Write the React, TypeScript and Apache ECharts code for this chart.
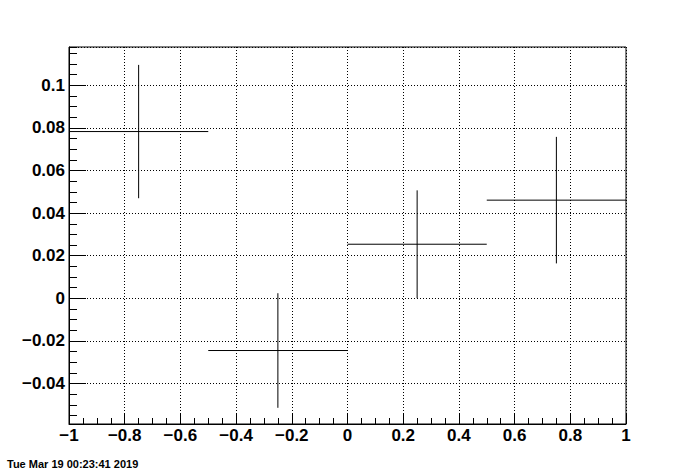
import React, { useEffect, useRef } from "react";
import * as echarts from "echarts";

const xValues = [-0.75, -0.25, 0.25, 0.75];
const xErrors = [0.25, 0.25, 0.25, 0.25];
const yValues = [0.0783, -0.0245, 0.0254, 0.0461];
const yErrors = [0.0313, 0.0269, 0.0253, 0.0297];

const xRange = [-1, 1];
const yRange = [-0.059, 0.118];
const dateLabel = "Tue Mar 19 00:23:41 2019";

const fmt = (v: number) => {
  if (Math.abs(v) < 1e-9) return "0";
  return String(parseFloat(v.toFixed(4))).replace("-", "\u2212");
};

const FONT = "'Liberation Sans', Arial, Helvetica, sans-serif";

export default function App() {
  const ref = useRef<HTMLDivElement>(null);
  useEffect(() => {
    if (!ref.current) return;
    const chart = echarts.init(ref.current, undefined, { renderer: "svg" });
    const data = xValues.map((x, i) => [x, yValues[i], xErrors[i], yErrors[i]]);
    const labelStyle = {
      color: "#000",
      fontFamily: FONT,
      fontWeight: "bold" as const,
      fontSize: 17,
    };
    chart.setOption({
      animation: false,
      backgroundColor: "#fff",
      grid: {
        left: 69,
        right: 70,
        top: 47,
        bottom: 48,
        show: true,
        borderColor: "#000",
        borderWidth: 1,
        backgroundColor: "transparent",
      },
      xAxis: {
        type: "value",
        min: xRange[0],
        max: xRange[1],
        interval: 0.2,
        position: "bottom",
        axisLine: { show: true, onZero: false, lineStyle: { color: "#000", width: 1 } },
        axisTick: { show: true, inside: true, length: 11, lineStyle: { color: "#000" } },
        minorTick: { show: true, splitNumber: 4, length: 6, lineStyle: { color: "#000" } },
        axisLabel: { ...labelStyle, margin: 3, formatter: fmt },
        splitLine: { show: true, lineStyle: { color: "#000", type: [1, 2], width: 1 } },
      },
      yAxis: [
        {
          type: "value",
          min: yRange[0],
          max: yRange[1],
          splitNumber: 9,
          position: "left",
          axisLine: { show: true, onZero: false, lineStyle: { color: "#000", width: 1 } },
          axisTick: { show: true, inside: true, length: 17, lineStyle: { color: "#000" } },
          axisLabel: {
            ...labelStyle,
            margin: 4,
            showMinLabel: false,
            showMaxLabel: false,
            formatter: fmt,
          },
          splitLine: { show: true, lineStyle: { color: "#000", type: [1, 2], width: 1 } },
        },
        {
          type: "value",
          min: yRange[0],
          max: yRange[1],
          splitNumber: 35,
          position: "left",
          axisLine: { show: false, onZero: false },
          axisTick: { show: true, inside: true, length: 8, lineStyle: { color: "#000" } },
          axisLabel: { show: false },
          splitLine: { show: false },
        },
      ],
      graphic: [
        {
          type: "text",
          left: 7,
          top: 458,
          style: {
            text: dateLabel,
            fill: "#000",
            font: `bold 11px ${FONT}`,
          },
        },
      ],
      series: [
        {
          type: "custom",
          xAxisIndex: 0,
          yAxisIndex: 0,
          data,
          encode: { x: 0, y: 1 },
          renderItem: (params: any, api: any) => {
            const x = api.value(0);
            const y = api.value(1);
            const ex = api.value(2);
            const ey = api.value(3);
            const l = api.coord([x - ex, y]);
            const r = api.coord([x + ex, y]);
            const t = api.coord([x, y + ey]);
            const b = api.coord([x, y - ey]);
            return {
              type: "group",
              children: [
                {
                  type: "line",
                  shape: { x1: l[0], y1: l[1], x2: r[0], y2: r[1] },
                  style: { stroke: "#000", lineWidth: 1 },
                },
                {
                  type: "line",
                  shape: { x1: t[0], y1: t[1], x2: b[0], y2: b[1] },
                  style: { stroke: "#000", lineWidth: 1 },
                },
              ],
            };
          },
        },
      ],
    });
    return () => chart.dispose();
  }, []);
  return (
    <div
      ref={ref}
      style={{ position: "absolute", left: 0, top: 0, width: 696, height: 472 }}
    />
  );
}
